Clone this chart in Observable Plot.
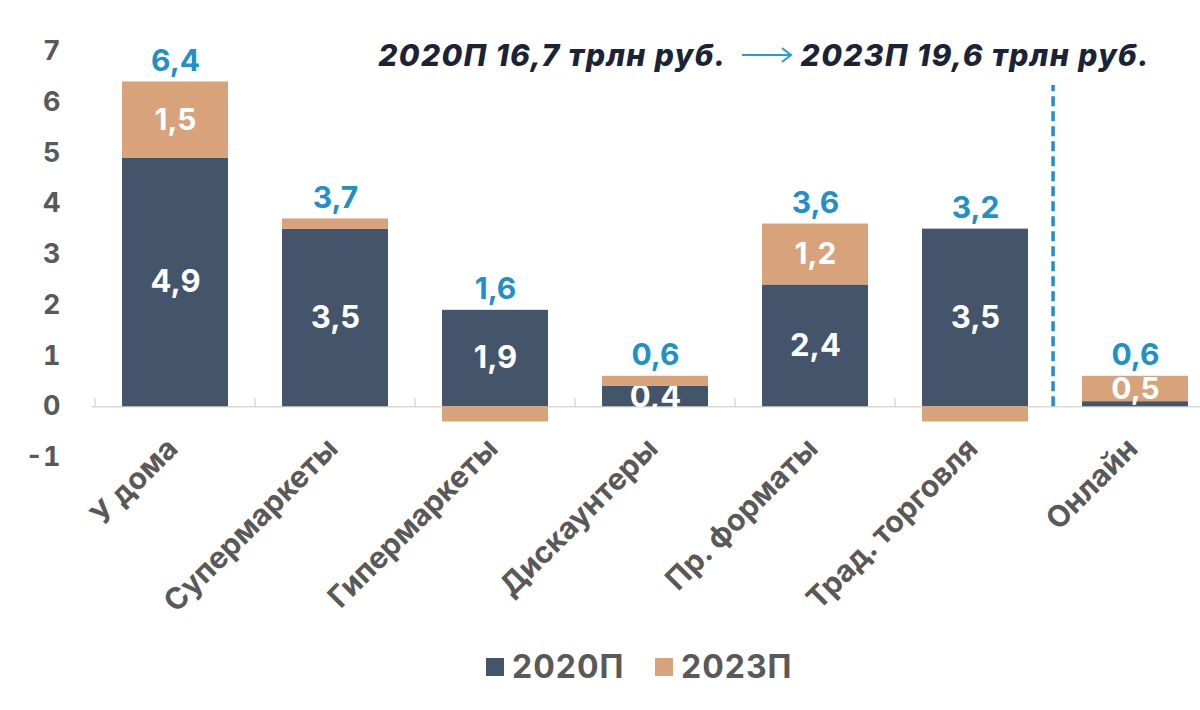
<!DOCTYPE html>
<html>
<head>
<meta charset="utf-8">
<script src="https://cdn.jsdelivr.net/npm/d3@7"></script>
<script src="https://cdn.jsdelivr.net/npm/@observablehq/plot@0.6"></script>
<style>
  body { margin: 0; background: #fff; font-family: Inter, "Open Sans", sans-serif; }
  #wrap { position: relative; width: 1200px; height: 710px; overflow: hidden; background: #fff; }
  #chart { position: absolute; left: 0; top: 0; }
  #chart g[aria-label="y-axis tick label"] text { font-feature-settings: "pnum" 1; }
  #title { position: absolute; top: 37px; right: 50px; white-space: nowrap; letter-spacing: 1.4px;
           font-family: Inter, sans-serif; font-style: italic; font-weight: 800; font-size: 30px; color: #1b2336; }
  #title svg { vertical-align: middle; margin: 0 8px 0 14px; position: relative; top: -3px; }
  .lg { position: absolute; top: 647px; display: flex; align-items: center; letter-spacing: 1px;
        font-family: Inter, sans-serif; font-weight: 700; font-size: 32px; color: #595959; }
  .sw { width: 18px; height: 18px; margin-right: 8px; }
</style>
</head>
<body>
<div id="wrap">
  <div id="chart"></div>
  <div id="title"></div>
  <div id="legend"></div>
</div>
<script>
const categories = ["У дома", "Супермаркеты", "Гипермаркеты", "Дискаунтеры", "Пр. форматы", "Трад. торговля", "Онлайн"];
const values2020 = [4.9, 3.5, 1.9, 0.4, 2.4, 3.5, 0.1];
const change2023 = [1.5, 0.2, -0.3, 0.2, 1.2, -0.3, 0.5];
const totals2023 = [6.4, 3.7, 1.6, 0.6, 3.6, 3.2, 0.6];
const yTicks = [-1, 0, 1, 2, 3, 4, 5, 6, 7];
const seriesNames = ["2020П", "2023П"];
const seriesColors = ["#44546a", "#d8a27b"];
const titleLeft = "2020П 16,7 трлн руб.";
const titleRight = "2023П 19,6 трлн руб.";
const dividerBefore = "Онлайн";

const fmt = v => d3.format(".1f")(v).replace(".", ",");

const dark = categories.map((c, i) => ({cat: c, y1: 0, y2: values2020[i], v: values2020[i]}));
const tan = categories.map((c, i) => {
  const base = values2020[i], d = change2023[i];
  return d >= 0 ? {cat: c, y1: base, y2: base + d, v: d} : {cat: c, y1: 0, y2: d, v: d};
});
const totals = categories.map((c, i) => ({cat: c, top: Math.max(dark[i].y2, tan[i].y2), v: totals2023[i]}));

const xRange = [92, 1218];
const step = (xRange[1] - xRange[0]) / categories.length;
const inner = 0.335;

const plot = Plot.plot({
  width: 1200,
  height: 640,
  marginLeft: 92,
  marginRight: 0,
  marginTop: 51,
  marginBottom: 183,
  style: {fontFamily: "Inter, sans-serif", background: "transparent", overflow: "visible"},
  x: {domain: categories, range: xRange, paddingInner: inner, paddingOuter: inner / 2, axis: null},
  y: {domain: [-1, 7], range: [457, 51], axis: null},
  marks: [
    Plot.ruleY([0], {stroke: "#d9d9d9", strokeWidth: 1.5}),
    Plot.ruleX(categories, {x: d => d, y1: 0, y2: 0.16, dx: -step / 2, stroke: "#d9d9d9", strokeWidth: 1.5}),
    Plot.barY(dark, {x: "cat", y1: "y1", y2: "y2", fill: seriesColors[0]}),
    Plot.text(dark.filter(d => Math.abs(d.v) >= 0.35), {
      x: "cat", y: d => (d.y1 + d.y2) / 2, text: d => fmt(d.v),
      fill: "white", fontSize: 31, fontWeight: 700, letterSpacing: 1
    }),
    Plot.barY(tan, {x: "cat", y1: "y1", y2: "y2", fill: seriesColors[1]}),
    Plot.text(tan.filter(d => Math.abs(d.v) >= 0.35), {
      x: "cat", y: d => (d.y1 + d.y2) / 2, text: d => fmt(d.v),
      fill: "white", fontSize: 30, fontWeight: 700, letterSpacing: 1
    }),
    Plot.text(totals, {
      x: "cat", y: "top", dy: -21, text: d => fmt(d.v),
      fill: "#2190c9", fontSize: 30, fontWeight: 700, letterSpacing: 1
    }),
    Plot.ruleX([dividerBefore], {
      x: d => d, dx: -step / 2 - 2, y1: 0, y2: 6.33,
      stroke: "#1f8fc9", strokeWidth: 3.5, strokeDasharray: "10,5"
    }),
    Plot.axisY(yTicks, {
      tickSize: 0, tickPadding: 32, fontSize: 27, fontWeight: 700, fill: "#595959",
      tickFormat: d => String(d)
    }),
    Plot.text(categories, {
      x: d => d, frameAnchor: "bottom", rotate: -45, textAnchor: "end",
      dx: 4, dy: -7, fontSize: 30, fontWeight: 700, fill: "#595959", text: d => d
    })
  ]
});
document.getElementById("chart").appendChild(plot);

// title with arrow
const title = document.getElementById("title");
title.innerHTML = `<span>${titleLeft}</span><svg width="52" height="20" viewBox="0 0 52 20"><line x1="1" y1="10" x2="49" y2="10" stroke="#2a9ad6" stroke-width="2"/><polyline points="41,3 50,10 41,17" fill="none" stroke="#2a9ad6" stroke-width="2"/></svg><span>${titleRight}</span>`;

// legend
const legend = document.getElementById("legend");
const legendLeft = [486, 655];
seriesNames.forEach((name, i) => {
  const item = document.createElement("div");
  item.className = "lg";
  item.style.left = legendLeft[i] + "px";
  item.innerHTML = `<div class="sw" style="background:${seriesColors[i]}"></div><span>${name}</span>`;
  legend.appendChild(item);
});
</script>
</body>
</html>
